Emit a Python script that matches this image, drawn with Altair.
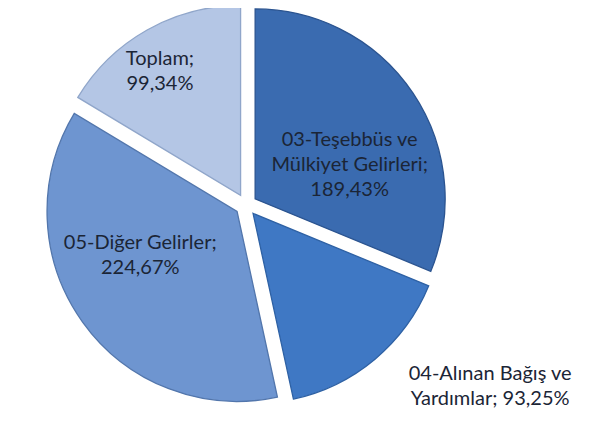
import altair as alt
import pandas as pd

# ---- data ----
categories = [
    "03-Teşebbüs ve Mülkiyet Gelirleri",
    "04-Alınan Bağış ve Yardımlar",
    "05-Diğer Gelirler",
    "Toplam",
]
values = [189.43, 93.25, 224.67, 99.34]
label_texts = [
    "03-Teşebbüs ve\nMülkiyet Gelirleri;\n189,43%",
    "04-Alınan Bağış ve\nYardımlar; 93,25%",
    "05-Diğer Gelirler;\n224,67%",
    "Toplam;\n99,34%",
]

# ---- styles ----
fill_colors = ["#3A6BB0", "#3F78C4", "#6E95D0", "#B4C6E5"]
edge_colors = ["#2B5490", "#2E61A4", "#5276AC", "#90A6CA"]
CX, CY = 238, 197      # pie centre (plot coordinates)
R = 190                # pie radius
EXPLODE = 11           # slice explosion distance
LH = 25                # label line height
# label placement: shift from slice mid-angle (degrees) and distance from centre
label_shift = {categories[0]: 12.8, categories[1]: -13.5, categories[2]: 10.3, categories[3]: -3.3}
label_radius = {categories[0]: 111, categories[1]: 304, categories[2]: 117, categories[3]: 159}

df = pd.DataFrame({
    "category": categories,
    "value": values,
    "order": list(range(len(categories))),
    "label": label_texts,
    "shift": [label_shift[c] for c in categories],
    "lr": [label_radius[c] for c in categories],
})

base = (
    alt.Chart(df)
    .transform_joinaggregate(total="sum(value)")
    .transform_window(cum="sum(value)", sort=[alt.SortField("order")], frame=[None, 0])
    .transform_calculate(
        start="(datum.cum - datum.value) / datum.total * 2 * PI",
        end="datum.cum / datum.total * 2 * PI",
        nlines="length(split(datum.label, '\\n'))",
    )
    .transform_calculate(mid="(datum.start + datum.end) / 2")
    .transform_calculate(
        ax=f"{CX} + {EXPLODE} * sin(datum.mid)",
        ay=f"{CY} - {EXPLODE} * cos(datum.mid)",
        tx=f"{CX} + datum.lr * sin(datum.mid + datum.shift * PI / 180)",
        ty=f"{CY} - datum.lr * cos(datum.mid + datum.shift * PI / 180) - (datum.nlines - 1) * {LH} / 2",
    )
)

arcs = base.mark_arc(radius=R, strokeWidth=1.3).encode(
    theta=alt.Theta("start:Q", scale=None, stack=False),
    theta2="end:Q",
    x=alt.X("ax:Q", scale=None, axis=None),
    y=alt.Y("ay:Q", scale=None, axis=None),
    color=alt.Color("category:N", scale=alt.Scale(domain=categories, range=fill_colors), legend=None),
    stroke=alt.Stroke("category:N", scale=alt.Scale(domain=categories, range=edge_colors), legend=None),
)

labels = base.mark_text(
    lineBreak="\n", font="Lato", fontSize=20, lineHeight=LH,
    color="#1b2536", align="center", baseline="middle",
).encode(
    x=alt.X("tx:Q", scale=None, axis=None),
    y=alt.Y("ty:Q", scale=None, axis=None),
    text="label:N",
)

chart = (
    alt.layer(arcs, labels)
    .properties(width=576, height=405, padding=0,
                autosize=alt.AutoSizeParams(type="none"))
    .configure_view(stroke=None)
    .resolve_scale(color="independent")
)

chart.save("out.html", embed_options={"renderer": "svg", "actions": False})
